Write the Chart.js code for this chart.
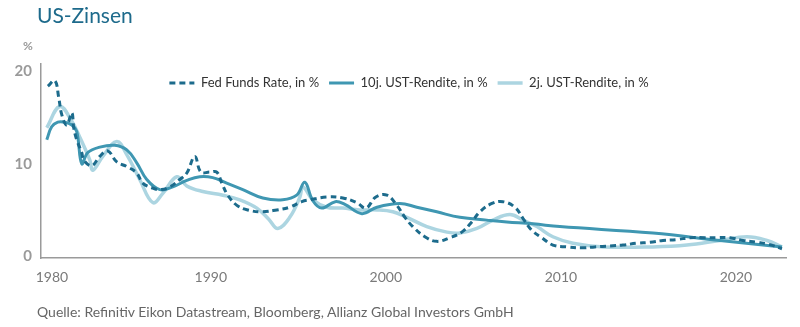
<!DOCTYPE html>
<html lang="de">
<head>
<meta charset="utf-8">
<title>US-Zinsen</title>
<script src="https://cdn.jsdelivr.net/npm/chart.js@4"></script>
<style>
  body { margin: 0; background: #fff; }
  #wrap { position: relative; width: 800px; height: 327px; font-family: Lato, "Open Sans", sans-serif; }
  #chart { position: absolute; left: 0; top: 0; }
  .title { position: absolute; left: 37px; top: 2px; font-size: 21px; color: #1d6a8b; }
  .unit { position: absolute; left: 23px; top: 38px; font-size: 12px; font-weight: bold; color: #9a9a9a; }
  .source { position: absolute; left: 37px; top: 303px; font-size: 14px; color: #666; }
</style>
</head>
<body>
<div id="wrap">
  <canvas id="chart" width="800" height="327"></canvas>
  <div class="title">US-Zinsen</div>
  <div class="unit">%</div>
  <div class="source">Quelle: Refinitiv Eikon Datastream, Bloomberg, Allianz Global Investors GmbH</div>
</div>
<script>
// series labels
const seriesNames = ['Fed Funds Rate, in %', '10j. UST-Rendite, in %', '2j. UST-Rendite, in %'];

// Fed Funds Rate
const fedYears = [1980.69, 1981.09, 1981.31, 1981.49, 1981.77, 1982.06, 1982.17, 1982.34, 1982.63, 1982.74,
  1983.2, 1983.66, 1984.11, 1984.63, 1985.2, 1985.77, 1986.11, 1986.63, 1987.09, 1987.66,
  1988.23, 1988.63, 1989.09, 1989.43, 1989.94, 1990.34, 1990.63, 1990.97, 1991.49, 1992.11,
  1992.91, 1993.77, 1994.51, 1995.2, 1995.66, 1996.63, 1997.54, 1998.34, 1998.86, 1999.43,
  2000.06, 2000.63, 2001.09, 2001.54, 2002.23, 2002.91, 2003.66, 2004.34, 2004.91, 2005.37,
  2006.06, 2006.69, 2007.37, 2007.83, 2008.34, 2008.91, 2009.54, 2010.34, 2011.2, 2011.94,
  2012.8, 2013.54, 2014.34, 2015.09, 2015.83, 2016.63, 2017.37, 2018.23, 2018.91, 2019.66,
  2020.4, 2021.2, 2021.83, 2022.63];
const fedRate = [18.4, 19.0, 17.2, 15.3, 14.2, 15.5, 13.9, 12.6, 11.2, 10.4,
  9.8, 10.8, 11.4, 10.2, 9.7, 9.0, 7.9, 7.4, 7.2, 7.5,
  8.3, 9.0, 10.8, 9.1, 9.1, 9.1, 7.9, 6.6, 5.5, 5.0,
  4.8, 5.0, 5.3, 5.9, 6.1, 6.4, 6.3, 5.8, 5.2, 6.4,
  6.6, 5.5, 4.2, 3.2, 2.1, 1.6, 2.0, 2.6, 3.7, 4.8,
  5.7, 5.9, 5.3, 4.1, 2.8, 2.0, 1.2, 1.0, 0.9, 1.0,
  1.1, 1.2, 1.4, 1.5, 1.7, 1.8, 2.0, 2.0, 2.0, 2.0,
  1.7, 1.5, 1.3, 0.8];

// 10-year Treasury yield
const t10Years = [1980.63, 1980.91, 1981.26, 1981.66, 1982.06, 1982.34, 1982.63, 1982.97, 1983.66, 1984.51,
  1985.2, 1985.77, 1986.34, 1987.09, 1987.83, 1988.63, 1989.37, 1990.11, 1990.91, 1991.83,
  1992.97, 1994.11, 1994.91, 1995.37, 1995.83, 1996.34, 1997.11, 1997.66, 1998.63, 1999.49,
  2000.8, 2001.77, 2002.91, 2004.23, 2005.77, 2006.91, 2008.4, 2009.94, 2015.26, 2019.09,
  2022.63];
const t10Yield = [12.6, 14.0, 14.5, 14.5, 14.2, 13.5, 10.0, 11.2, 11.8, 12.0,
  11.5, 10.1, 8.3, 7.2, 7.5, 8.2, 8.6, 8.5, 7.9, 7.2,
  6.3, 6.1, 6.6, 8.0, 6.0, 5.2, 5.9, 5.6, 4.6, 5.3,
  5.7, 5.3, 4.8, 4.2, 3.9, 3.7, 3.5, 3.2, 2.5, 1.7,
  1.0];

// 2-year Treasury yield
const t2Years = [1980.63, 1981.37, 1982.06, 1982.51, 1983.09, 1983.26, 1983.83, 1984.63, 1985.2, 1985.94,
  1986.69, 1987.26, 1988.06, 1988.63, 1989.54, 1990.69, 1991.66, 1992.63, 1993.31, 1993.83,
  1994.51, 1995.09, 1995.26, 1995.83, 1996.63, 1997.54, 1998.51, 1999.49, 2000.4, 2001.2,
  2002.34, 2003.49, 2004.23, 2005.2, 2006.11, 2007.09, 2007.83, 2008.63, 2009.54, 2010.69,
  2012.4, 2015.26, 2017.2, 2019.09, 2020.63, 2021.77, 2022.63];
const t2Yield = [13.9, 16.2, 14.6, 12.9, 10.4, 9.3, 10.8, 12.4, 11.0, 8.3,
  5.8, 6.8, 8.6, 7.6, 7.0, 6.6, 6.1, 5.2, 4.0, 3.0,
  4.2, 6.4, 7.5, 6.1, 5.3, 5.2, 5.0, 5.0, 4.8, 4.2,
  3.2, 2.6, 2.5, 3.0, 3.9, 4.5, 3.9, 3.2, 2.1, 1.4,
  1.0, 1.0, 1.2, 1.7, 2.1, 1.7, 1.0];

// axis ticks
const xTicks = [1980, 1990, 2000, 2010, 2020];
const yTicks = [0, 10, 20];

const toPoints = (xs, ys) => xs.map((x, i) => ({ x: x, y: ys[i] }));

// the legend sits inside the plot, just below its top edge
const legendInside = {
  id: 'legendInside',
  afterLayout(chart) {
    const lg = chart.legend;
    const h = lg.height;
    lg.top = chart.chartArea.top + 2.5;
    lg.bottom = lg.top + h;
    lg.left += 16;
    lg.right += 16;
  }
};

const ctx = document.getElementById('chart').getContext('2d');
new Chart(ctx, {
  type: 'line',
  data: {
    datasets: [{
      label: seriesNames[0],
      data: toPoints(fedYears, fedRate),
      borderColor: '#1c6b8c',
      borderWidth: 3,
      borderDash: [6, 4]
    }, {
      label: seriesNames[1],
      data: toPoints(t10Years, t10Yield),
      borderColor: '#3f97b2',
      borderWidth: 3
    }, {
      label: seriesNames[2],
      data: toPoints(t2Years, t2Yield),
      borderColor: '#acd5e1',
      borderWidth: 3.5
    }]
  },
  options: {
    responsive: false,
    animation: false,
    layout: { padding: { top: 31, left: 0, right: 14, bottom: 39 } },
    elements: {
      point: { radius: 0 },
      line: { tension: 0.4, fill: false }
    },
    scales: {
      x: {
        type: 'linear',
        min: 1980.3,
        max: 2022.86,
        afterBuildTicks: axis => { axis.ticks = xTicks.concat([2022.86]).map(v => ({ value: v })); },
        afterFit: axis => { axis.height = 30; },
        grid: { display: false, drawTicks: false },
        border: { color: '#9a9a9a', width: 1.5 },
        ticks: {
          autoSkip: false,
          maxRotation: 0,
          align: 'inner',
          padding: 11,
          color: '#7a7a7a',
          font: { family: 'Lato', size: 14 },
          callback: v => (xTicks.includes(v) ? String(v) : '')
        }
      },
      y: {
        min: -0.2,
        max: 20.8,
        afterBuildTicks: axis => { axis.ticks = yTicks.map(v => ({ value: v })); },
        afterFit: axis => { axis.width = 41; },
        grid: { display: false, drawTicks: false },
        border: { color: '#9a9a9a', width: 1.5 },
        ticks: {
          padding: 9,
          color: '#9a9a9a',
          font: { family: 'Lato', size: 15, weight: 'bold' }
        }
      }
    },
    plugins: {
      legend: {
        position: 'top',
        align: 'center',
        labels: {
          usePointStyle: true,
          pointStyle: 'line',
          pointStyleWidth: 25,
          padding: 10,
          color: '#333',
          font: { family: 'Lato', size: 13 },
          generateLabels: chart =>
            Chart.defaults.plugins.legend.labels.generateLabels(chart).map((item, i) => {
              const ds = chart.data.datasets[i];
              return Object.assign(item, { lineDash: ds.borderDash || [], lineWidth: ds.borderWidth });
            })
        }
      },
      tooltip: { enabled: false }
    }
  },
  plugins: [legendInside]
});
</script>
</body>
</html>
